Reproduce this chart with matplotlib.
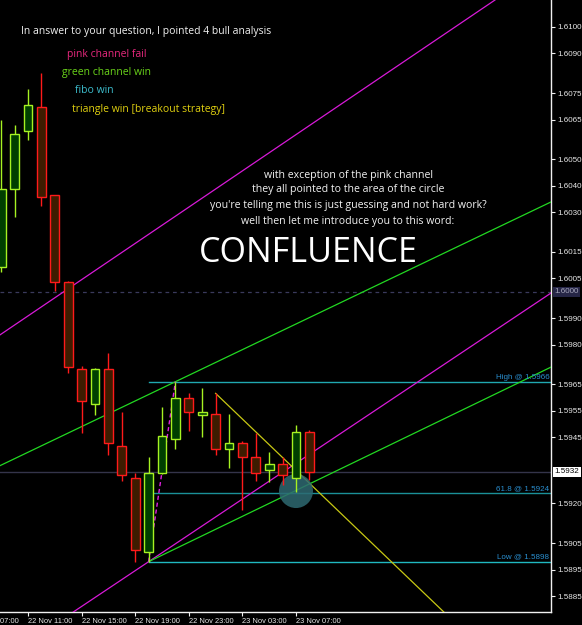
import matplotlib
matplotlib.use('Agg')
import matplotlib.pyplot as plt
import matplotlib.transforms as mtransforms
from matplotlib.patches import Rectangle, Ellipse

# ---------------- data ----------------
# bar index: hours relative to 22 Nov 11:00 (H1 chart)
hours  = list(range(-2, 22))
opens  = [1.60094, 1.60387, 1.60606, 1.60697, 1.60364, 1.60037, 1.59707, 1.59575,
          1.59707, 1.59416, 1.59295, 1.59015, 1.59314, 1.59445, 1.59597, 1.59535,
          1.59537, 1.59406, 1.59427, 1.59374, 1.59325, 1.59348, 1.59295, 1.59469]
highs  = [1.60649, 1.60629, 1.60767, 1.60827, 1.60366, 1.60040, 1.59719, 1.59710,
          1.59767, 1.59547, 1.59314, 1.59377, 1.59566, 1.59660, 1.59616, 1.59635,
          1.59616, 1.59537, 1.59436, 1.59465, 1.59396, 1.59374, 1.59496, 1.59478]
lows   = [1.60074, 1.60283, 1.60573, 1.60325, 1.60004, 1.59694, 1.59465, 1.59534,
          1.59383, 1.59286, 1.58978, 1.58980, 1.59310, 1.59406, 1.59475, 1.59452,
          1.59383, 1.59333, 1.59175, 1.59286, 1.59282, 1.59270, 1.59244, 1.59289]
closes = [1.60387, 1.60596, 1.60706, 1.60357, 1.60035, 1.59717, 1.59586, 1.59707,
          1.59427, 1.59306, 1.59023, 1.59314, 1.59454, 1.59597, 1.59545, 1.59547,
          1.59406, 1.59427, 1.59374, 1.59314, 1.59348, 1.59306, 1.59469, 1.59320]

price_ticks = [1.6100, 1.6090, 1.6075, 1.6065, 1.6050, 1.6040, 1.6030, 1.6015, 1.6005,
               1.5990, 1.5980, 1.5965, 1.5955, 1.5945, 1.5920, 1.5905, 1.5895, 1.5885]
time_ticks = [-4, 0, 4, 8, 12, 16, 20]
time_labels = ['22 Nov 07:00', '22 Nov 11:00', '22 Nov 15:00', '22 Nov 19:00',
               '22 Nov 23:00', '23 Nov 03:00', '23 Nov 07:00']

current_price = 1.5932
round_level = 1.6000

# trend lines: (h1, p1, h2, p2)
pink_upper  = (-2.0, 1.59840, 34.85, 1.61102)
pink_lower  = (9.0, 1.58980, 39.03, 1.59995)
green_upper = (11.0, 1.59660, 33.0, 1.60193)
green_lower = (9.0, 1.58980, 38.9, 1.59712)
triangle    = (14.0, 1.59616, 22.0, 1.59228)
fibo_diag   = (9.0, 1.58980, 11.0, 1.59660)

fib_start = 9
fib_levels = [1.5966, 1.5924, 1.5898]
fib_labels = ['High @ 1.5966', '61.8 @ 1.5924', 'Low @ 1.5898']

circle_center = (20.0, 1.59247)

notes = ['pink channel fail', 'green channel win', 'fibo win',
         'triangle win [breakout strategy]']
middle_lines = ['with exception of the pink channel',
                'they all pointed to the area of the circle',
                "you're telling me this is just guessing and not hard work?",
                'well then let me introduce you to this word:']

# ---------------- figure ----------------
W, H, DPI = 582, 625, 100
fig = plt.figure(figsize=(W / DPI, H / DPI), dpi=DPI, facecolor='black')
ax = fig.add_axes([0, 13 / H, 551 / W, 612 / H])
ax.set_facecolor('black')

ax.set_xlim(-2.09, 39.03)
ax.set_ylim(1.58790, 1.61102)

# spines
for s in ['left', 'top']:
    ax.spines[s].set_visible(False)
for s in ['right', 'bottom']:
    ax.spines[s].set_color('#f0f0f0')
    ax.spines[s].set_linewidth(1)

TICKFONT = 'Liberation Sans'
ax.yaxis.tick_right()
ax.set_yticks(price_ticks)
ax.set_yticklabels([f'{t:.4f}' for t in price_ticks])
ax.tick_params(axis='y', colors='#f0f0f0', length=3, width=0.8, pad=1.5,
               labelsize=5.8, labelcolor='#e8e8e8')
for lab in ax.get_yticklabels():
    lab.set_fontfamily(TICKFONT)

vis_t = [t for t in time_ticks if t >= -2]
vis_l = [l for t, l in zip(time_ticks, time_labels) if t >= -2]
ax.set_xticks(vis_t)
ax.set_xticklabels(vis_l)
ax.tick_params(axis='x', colors='#f0f0f0', length=3, width=0.8, pad=1.5,
               labelsize=5.4, labelcolor='#e8e8e8')
for lab in ax.get_xticklabels():
    lab.set_horizontalalignment('left')
    lab.set_fontfamily(TICKFONT)
# label of a tick left of the visible range: only its end shows at the edge
lbl_tr = mtransforms.blended_transform_factory(ax.transData, ax.transAxes) + \
    mtransforms.ScaledTranslation(0, -4.5 / 72, fig.dpi_scale_trans)
for t, l in zip(time_ticks, time_labels):
    if t < -2:
        ax.text(t, 0, l, transform=lbl_tr, ha='left', va='top', fontsize=5.4,
                color='#e8e8e8', family=TICKFONT, clip_on=False)

# horizontal levels
ax.axhline(round_level, color='#3a3a5c', lw=0.9, ls=(0, (3, 3)), zorder=1)
ax.axhline(current_price, color='#34344a', lw=1.0, zorder=1)

# fibonacci levels
fib_cols = ['#20a8b0', '#1a9098', '#20b8c0']
for lvl, lab, c in zip(fib_levels, fib_labels, fib_cols):
    ax.plot([fib_start, 39.03], [lvl, lvl], color=c, lw=1.0, zorder=2)
    ax.text(38.9, lvl + 0.00004, lab, ha='right', va='bottom', fontsize=5.8,
            color='#2a8fd0', family=TICKFONT, zorder=6)
ax.plot([fibo_diag[0], fibo_diag[2]], [fibo_diag[1], fibo_diag[3]], color='#e020e0',
        lw=1.0, ls=(0, (3, 2)), zorder=4)

# channels
def full_line(seg, color, lw=0.9, z=3):
    ax.axline((seg[0], seg[1]), (seg[2], seg[3]), color=color, lw=lw, zorder=z)

def ray(seg, color, lw=0.9, z=3):
    h1, p1, h2, p2 = seg
    slope = (p2 - p1) / (h2 - h1)
    xe = 45
    ax.plot([h1, xe], [p1, p1 + slope * (xe - h1)], color=color, lw=lw, zorder=z)

full_line(pink_upper, '#d81ad8')
full_line(pink_lower, '#d81ad8')
full_line(green_upper, '#22d822')
ray(green_lower, '#22d822')
ray(triangle, '#c8c814')

# circle (ellipse in data coords keeps ~17px radius)
px_per_h = 13.4
px_per_p = 1 / 0.00003778
r = 17.0
ax.add_patch(Ellipse(circle_center, 2 * r / px_per_h, 2 * r / px_per_p,
                     facecolor='#2e6a72', edgecolor='none', alpha=0.85, zorder=3.5))

# candles
bw = 0.66
bull_edge, bull_fill = '#a6f222', '#003f00'
bear_edge, bear_fill = '#ff1a1a', '#3e1c00'
for h, o, hi, lo, c in zip(hours, opens, highs, lows, closes):
    bull = c >= o
    ec = bull_edge if bull else bear_edge
    fc = bull_fill if bull else bear_fill
    ax.vlines(h, lo, hi, color=ec, lw=1.0, zorder=5)
    bottom = min(o, c)
    height = max(abs(c - o), 0.00004)
    ax.add_patch(Rectangle((h - bw / 2, bottom), bw, height, facecolor=fc,
                           edgecolor=ec, lw=1.0, zorder=6))

# price boxes on the axis
bt = mtransforms.blended_transform_factory(ax.transAxes, ax.transData)
ax.text(1.006, round_level, f'{round_level:.4f}', transform=bt, ha='left', va='center',
        fontsize=5.8, color='#a8a8bc', family=TICKFONT, clip_on=False, zorder=10,
        bbox=dict(boxstyle='square,pad=0.2', facecolor='#262646', edgecolor='none'))
ax.text(1.006, current_price, f'{current_price:.4f}', transform=bt, ha='left', va='center',
        fontsize=5.8, color='black', family=TICKFONT, clip_on=False, zorder=10,
        bbox=dict(boxstyle='square,pad=0.2', facecolor='white', edgecolor='none'))

# annotations
FONT = ['Open Sans', 'DejaVu Sans']
def ftext(x, y, s, **kw):
    fig.text(x / W, 1 - y / H, s, family=FONT, **kw)

ftext(21, 31.7, 'In answer to your question, I pointed 4 bull analysis',
      fontsize=7.5, color='#f2f2f2', va='center')
note_pos = [(67, 54.3), (62, 72.3), (75, 90.3), (71.5, 109.7)]
note_cols = ['#e8287e', '#6ad41a', '#3cbccc', '#e0d010']
for (x, y), s, c in zip(note_pos, notes, note_cols):
    ftext(x, y, s, fontsize=7.5, color=c, va='center')

mid_y = [175.3, 189.7, 205.0, 221.7]
for y, s in zip(mid_y, middle_lines):
    ftext(348, y, s, fontsize=7.6, color='#f2f2f2', ha='center', va='center')
ftext(308, 252.5, 'CONFLUENCE', fontsize=24.5, color='white', ha='center', va='center')

fig.savefig('out.png', dpi=DPI, facecolor='black')
